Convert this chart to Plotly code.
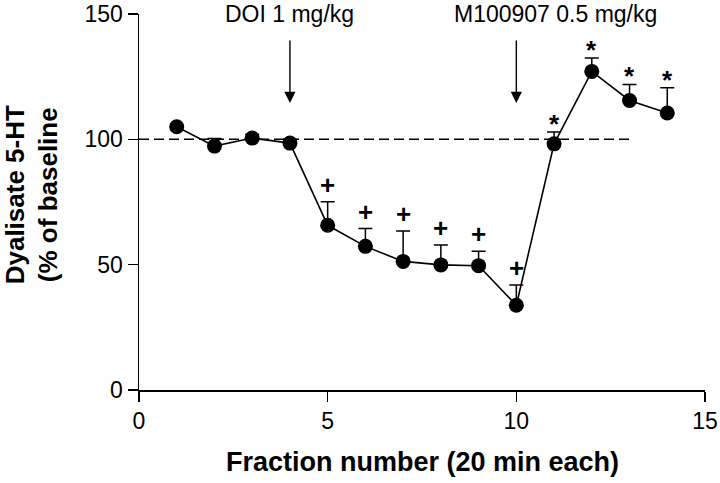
import plotly.graph_objects as go

# ---- data ----
fractions = [1, 2, 3, 4, 5, 6, 7, 8, 9, 10, 11, 12, 13, 14]
dialysate_5ht = [105.0, 97.3, 100.5, 98.5, 65.7, 57.3, 51.3, 49.9, 49.6, 33.8, 98.2, 127.1, 115.5, 110.5]
sem_upper = [0.0, 3.0, 1.5, 1.5, 9.4, 7.1, 12.1, 7.9, 5.8, 8.1, 4.7, 5.3, 6.4, 10.1]
significance = ["", "", "", "", "+", "+", "+", "+", "+", "+", "*", "*", "*", "*"]

baseline_value = 100
baseline_end = 13

injection_fraction = [4, 10]
injection_label = ["DOI 1 mg/kg", "M100907 0.5 mg/kg"]
injection_label_x = [4.0, 11.05]

x_ticks = [0, 5, 10, 15]
y_ticks = [0, 50, 100, 150]

FONT = "Liberation Sans, Arial, sans-serif"

fig = go.Figure()

fig.add_trace(go.Scatter(
    x=fractions, y=dialysate_5ht,
    mode="lines+markers",
    line=dict(color="black", width=1.6),
    marker=dict(color="black", size=15, line=dict(width=0)),
    error_y=dict(type="data", symmetric=False, array=sem_upper,
                 arrayminus=[0] * len(sem_upper),
                 color="black", thickness=1.5, width=7),
    showlegend=False,
    hoverinfo="skip",
))

# baseline dashed line
fig.add_shape(type="line", xref="x", yref="y",
              x0=0, x1=baseline_end, y0=baseline_value, y1=baseline_value,
              line=dict(color="black", width=1.5, dash="10px,5px"), layer="below")

annotations = []
# significance marks
sym_shift = {"+": 0, "*": -9}
for xv, yv, ev, s in zip(fractions, dialysate_5ht, sem_upper, significance):
    if s:
        annotations.append(dict(x=xv, y=yv + ev, xref="x", yref="y", text="<b>" + s + "</b>",
                                showarrow=False, yanchor="bottom",
                                yshift=sym_shift[s],
                                font=dict(family=FONT, size=26, color="black")))

# injection arrows and labels
for xf, lab, lx in zip(injection_fraction, injection_label, injection_label_x):
    annotations.append(dict(x=xf, y=114.5, ax=xf, ay=140, xref="x", yref="y",
                            axref="x", ayref="y", text="", showarrow=True,
                            arrowhead=2, arrowsize=1.6, arrowwidth=1.4,
                            arrowcolor="black"))
    annotations.append(dict(x=lx, y=150, xref="x", yref="y", text=lab,
                            showarrow=False, yanchor="middle", xanchor="center",
                            font=dict(family=FONT, size=23, color="black")))

# axis titles
annotations.append(dict(x=(32 - 139) / 566, y=(389.7 - 195) / 376, xref="paper", yref="paper",
                        text="<b>Dyalisate 5-HT<br>(% of baseline</b>", textangle=-90,
                        showarrow=False, xanchor="center", yanchor="middle",
                        font=dict(family=FONT, size=26, color="black")))
annotations.append(dict(x=0.5, y=(389.7 - 462) / 376, xref="paper", yref="paper",
                        text="<b>Fraction number (20 min each)</b>",
                        showarrow=False, xanchor="center", yanchor="middle",
                        font=dict(family=FONT, size=27, color="black")))

fig.update_layout(
    width=720, height=483,
    margin=dict(l=139, r=15, t=14, b=93, autoexpand=False),
    paper_bgcolor="white", plot_bgcolor="white",
    annotations=annotations,
    font=dict(family=FONT, color="black"),
    hovermode=False,
)
axis_style = dict(showline=True, linecolor="black", linewidth=1.5, ticks="outside",
                  ticklen=10, tickwidth=1.5, tickcolor="black", showgrid=False,
                  zeroline=False, automargin=False,
                  tickfont=dict(family=FONT, size=23, color="black"))
fig.update_xaxes(range=[0, 15], tickvals=x_ticks, **axis_style)
fig.update_yaxes(range=[0, 150], tickvals=y_ticks, **axis_style)

fig.write_html("out.html",
               config={"displayModeBar": False, "staticPlot": True},
               post_script="document.body.style.margin='0';document.body.style.overflow='hidden';")
